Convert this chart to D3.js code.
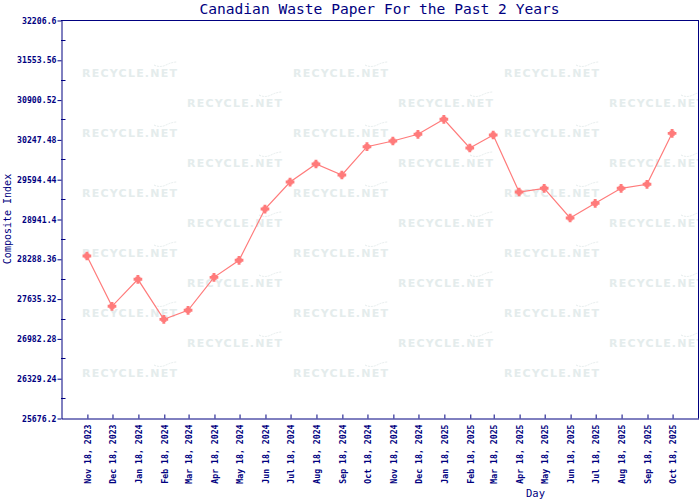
<!DOCTYPE html>
<html>
<head>
<meta charset="utf-8">
<script src="https://cdn.jsdelivr.net/npm/d3@7"></script>
<style>
html,body{margin:0;padding:0;background:#fff;}
svg{display:block;}
</style>
</head>
<body>
<svg id="chart" width="700" height="500"></svg>
<script>
// ---- data ----
const dates = ["2023-11-18","2023-12-18","2024-01-18","2024-02-18","2024-03-18","2024-04-18",
  "2024-05-18","2024-06-18","2024-07-18","2024-08-18","2024-09-18","2024-10-18",
  "2024-11-18","2024-12-18","2025-01-18","2025-02-18","2025-03-18","2025-04-18",
  "2025-05-18","2025-06-18","2025-07-18","2025-08-18","2025-09-18","2025-10-18"];
const values = [28334, 27509, 27952, 27295, 27443, 27984,
  28264, 29105, 29548, 29844, 29663, 30128,
  30221, 30331, 30577, 30106, 30320, 29384,
  29445, 28958, 29199, 29445, 29511, 30347];
const yTickLabels = ["25676.2","26329.24","26982.28","27635.32","28288.36","28941.4",
  "29594.44","30247.48","30900.52","31553.56","32206.6"];
const xDomainDates = ["2023-10-18","2025-11-18"];
const titleText = "Canadian Waste Paper For the Past 2 Years";
const yTitle = "Composite Index";
const xTitle = "Day";
const watermark = "RECYCLE.NET";

// ---- layout ----
const navy = "#000080", lineCol = "#ff7b7b";
const L = 61, R = 698, T = 20, B = 418;
const svg = d3.select("#chart");
const parse = d3.utcParse("%Y-%m-%d");
const fmt = d3.utcFormat("%b %d, %Y");

const x = d3.scaleUtc().domain(xDomainDates.map(parse)).range([L, R]);
const yVals = yTickLabels.map(Number);
const y = d3.scaleLinear().domain([yVals[0], yVals[yVals.length-1]]).range([B, T]);

// watermark
const defs = svg.append("defs");
defs.append("clipPath").attr("id","plotclip").append("rect")
  .attr("x", L+1).attr("y", T+1).attr("width", R-L-1).attr("height", B-T-1);
const wm = svg.append("g").attr("clip-path","url(#plotclip)");
for (let r = 0; r < 11; r++) {
  const base = 77 + r*30;
  const off = (r % 2 === 0) ? 82 : 187;
  for (let c = 0; c < 3; c++) {
    const sx = off + c*211;
    wm.append("text").attr("x", sx).attr("y", base)
      .attr("textLength", 95).attr("lengthAdjust","spacing")
      .attr("font-family","DejaVu Sans").attr("font-weight","bold")
      .attr("font-size", 11).attr("fill","#e4ecec").text(watermark);
    wm.append("path")
      .attr("d", `M${sx+72},${base-12} q6,3 12,0 t11,-3`)
      .attr("fill","none").attr("stroke","#e6eded").attr("stroke-width",1)
      .attr("stroke-dasharray","2,1");
  }
}

// frame
svg.append("line").attr("x1",L).attr("x2",R+0.5).attr("y1",T+0.5).attr("y2",T+0.5)
  .attr("stroke",navy);
svg.append("line").attr("x1",R+0.5).attr("x2",R+0.5).attr("y1",T).attr("y2",B+0.5)
  .attr("stroke",navy);

// y axis
const yAxis = svg.append("g").attr("transform",`translate(${L+0.5},0.5)`)
  .call(d3.axisLeft(y).tickValues(yVals).tickFormat((d,i)=>yTickLabels[i])
    .tickSizeInner(4).tickSizeOuter(0).tickPadding(1));
yAxis.select(".domain").attr("stroke",navy);
yAxis.selectAll(".tick line").attr("stroke",navy);
yAxis.selectAll("text").attr("fill",navy).attr("font-family","DejaVu Sans Mono")
  .attr("font-weight","bold").attr("font-size",8.2);
// minor ticks (inside)
const minor = d3.pairs(yVals).map(p => (p[0]+p[1])/2);
svg.append("g").selectAll("line").data(minor).join("line")
  .attr("x1",L).attr("x2",L+4.5)
  .attr("y1",d=>Math.round(y(d))+0.5).attr("y2",d=>Math.round(y(d))+0.5)
  .attr("stroke",navy);

// x axis
const tickDates = dates.map(parse);
const xAxis = svg.append("g").attr("transform",`translate(0.5,${B+0.5})`)
  .call(d3.axisBottom(x).tickValues(tickDates).tickFormat(fmt)
    .tickSizeInner(-4).tickSizeOuter(0));
xAxis.select(".domain").attr("stroke",navy);
xAxis.selectAll(".tick line").attr("stroke",navy);
xAxis.selectAll("text").attr("fill",navy).attr("font-family","DejaVu Sans Mono")
  .attr("font-weight","bold").attr("font-size",8.2)
  .attr("transform","rotate(-90)").attr("text-anchor","end")
  .attr("x",-6).attr("y",0).attr("dy","0.35em");

// line
const pts = tickDates.map((d,i)=>[x(d), y(values[i])]);
svg.append("path").datum(pts)
  .attr("d", d3.line())
  .attr("fill","none").attr("stroke",lineCol).attr("stroke-width",1.2);
const mk = svg.append("g").attr("fill",lineCol);
mk.selectAll("path.c").data(pts).join("path").attr("class","c")
  .attr("transform",d=>`translate(${d[0]},${d[1]})`)
  .attr("d", d3.symbol(d3.symbolCross, 42)());
mk.selectAll("path.s").data(pts).join("path").attr("class","s")
  .attr("transform",d=>`translate(${d[0]},${d[1]})`)
  .attr("d", d3.symbol(d3.symbolSquare, 26)());

// titles
svg.append("text").attr("x",(L+R)/2).attr("y",14).attr("text-anchor","middle")
  .attr("font-family","DejaVu Sans Mono").attr("font-size",14.6).attr("fill",navy)
  .text(titleText);
svg.append("text").attr("transform",`translate(11,${(T+B)/2}) rotate(-90)`)
  .attr("text-anchor","middle")
  .attr("font-family","DejaVu Sans Mono").attr("font-size",10).attr("fill",navy)
  .text(yTitle);
svg.append("text").attr("x",526).attr("y",497)
  .attr("font-family","DejaVu Sans Mono").attr("font-size",10.5).attr("fill",navy)
  .text(xTitle);
</script>
</body>
</html>
